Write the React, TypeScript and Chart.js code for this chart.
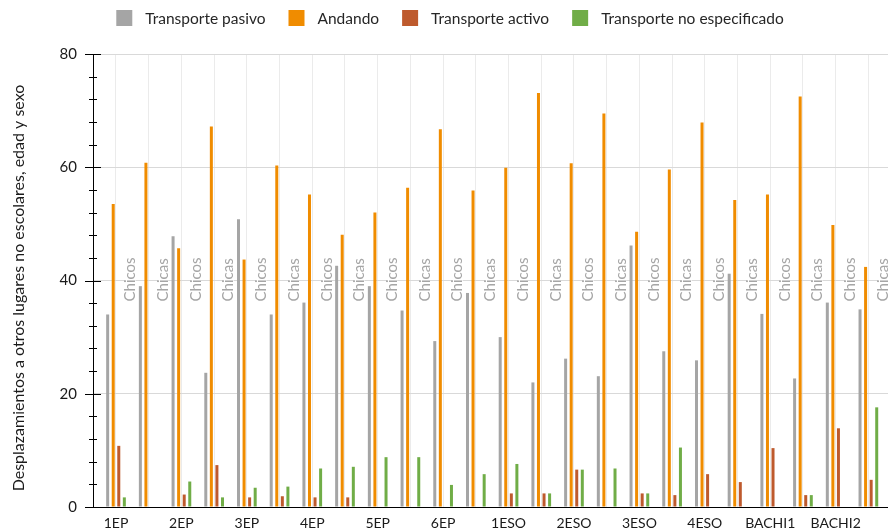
import React, { useEffect, useRef } from 'react';
import { Chart, registerables } from 'chart.js';

Chart.register(...registerables);

// ---- Data ----
const courses = ['1EP', '2EP', '3EP', '4EP', '5EP', '6EP', '1ESO', '2ESO', '3ESO', '4ESO', 'BACHI1', 'BACHI2'];
const sexes = ['Chicos', 'Chicas'];
const seriesNames = ['Transporte pasivo', 'Andando', 'Transporte activo', 'Transporte no especificado'];
const seriesColors = ['#A5A5A5', '#F08C00', '#BE5A2D', '#70AD47'];
const yTickValues = [0, 20, 40, 60, 80];
const axisTitle = 'Desplazamientos a otros lugares no escolares, edad y sexo';

// 24 values per series: each course -> Chicos, Chicas
const pasivo = [34.0, 39.0, 47.8, 23.7, 50.8, 34.0, 36.1, 42.6, 39.0, 34.7, 29.3, 37.8, 30.0, 22.0, 26.2, 23.1, 46.2, 27.5, 25.9, 41.2, 34.1, 22.7, 36.1, 34.9];
const andando = [53.5, 60.8, 45.7, 67.2, 43.7, 60.3, 55.2, 48.1, 52.0, 56.4, 66.7, 55.9, 59.9, 73.1, 60.7, 69.5, 48.6, 59.6, 67.9, 54.2, 55.2, 72.5, 49.8, 42.4];
const activo = [10.8, 0, 2.2, 7.4, 1.7, 1.9, 1.7, 1.7, 0, 0, 0, 0, 2.4, 2.4, 6.6, 0, 2.4, 2.1, 5.8, 4.4, 10.4, 2.1, 13.9, 4.8];
const noEspecificado = [1.7, 0, 4.5, 1.7, 3.4, 3.6, 6.8, 7.1, 8.8, 8.8, 3.9, 5.8, 7.6, 2.4, 6.6, 6.8, 2.4, 10.5, 0, 0, 0, 2.1, 0, 17.6];

const seriesValues = [pasivo, andando, activo, noEspecificado];
const categoryIndex = pasivo.map((_, i) => i);
const FONT = 'Lato';

const decorPlugin = {
  id: 'decor',
  beforeDatasetsDraw(chart: any) {
    const { ctx, scales } = chart;
    const x = scales.x;
    const y = scales.y;
    ctx.save();
    ctx.font = `15px ${FONT}`;
    const startY = y.getPixelForValue(36.3);
    categoryIndex.forEach((i) => {
      const text = sexes[i % 2];
      const cx = x.getPixelForValue(i) + 14.5;
      const w = ctx.measureText(text).width;
      ctx.fillStyle = '#ffffff';
      ctx.fillRect(cx - 5, startY - w - 1, 10, w + 2);
      ctx.save();
      ctx.translate(cx, startY);
      ctx.rotate(-Math.PI / 2);
      ctx.fillStyle = '#A6A6A6';
      ctx.textAlign = 'left';
      ctx.textBaseline = 'middle';
      ctx.fillText(text, 0, 0);
      ctx.restore();
    });
    ctx.restore();
  },
  afterDraw(chart: any) {
    const { ctx, chartArea, scales } = chart;
    const y = scales.y;
    ctx.save();
    // crossing tick marks on the value axis
    ctx.strokeStyle = '#000';
    ctx.lineWidth = 1;
    const ax = Math.round(chartArea.left);
    for (let v = 0; v <= 80; v += 4) {
      const py = Math.round(y.getPixelForValue(v)) + 0.5;
      const major = v % 20 === 0;
      ctx.beginPath();
      ctx.moveTo(ax - (major ? 8 : 4), py);
      ctx.lineTo(ax + (major ? 8 : 4), py);
      ctx.stroke();
    }
    // axis title
    ctx.save();
    ctx.translate(19, 288);
    ctx.rotate(-Math.PI / 2);
    ctx.font = `16px ${FONT}`;
    ctx.fillStyle = '#1a1a1a';
    ctx.textAlign = 'center';
    ctx.textBaseline = 'middle';
    ctx.fillText(axisTitle, 0, 0);
    ctx.restore();
    // legend
    ctx.font = `15.5px ${FONT}`;
    const box = 16;
    const gap = 13;
    const spacing = 23;
    const widths = seriesNames.map((n) => ctx.measureText(n).width);
    const total = widths.reduce((a, w) => a + box + gap + w, 0) + spacing * (seriesNames.length - 1);
    let lx = 450 - total / 2;
    const ly = 10;
    seriesNames.forEach((n, i) => {
      ctx.fillStyle = seriesColors[i];
      ctx.fillRect(lx, ly, box, box);
      ctx.fillStyle = '#262626';
      ctx.textAlign = 'left';
      ctx.textBaseline = 'middle';
      ctx.fillText(n, lx + box + gap, ly + box / 2 + 0.5);
      lx += box + gap + widths[i] + spacing;
    });
    ctx.restore();
  },
};

export default function App() {
  const ref = useRef<HTMLCanvasElement>(null);
  useEffect(() => {
    let chart: Chart | null = null;
    let cancelled = false;
    const make = () => {
      if (cancelled || !ref.current) return;
      chart = new Chart(ref.current, {
        type: 'bar',
        data: {
          datasets: seriesNames.map((name, s) => ({
            label: name,
            data: seriesValues[s].map((v, i) => ({ x: i, y: v })),
            backgroundColor: seriesColors[s],
            borderWidth: 0,
            categoryPercentage: 0.68,
            barPercentage: 0.54,
          })),
        },
        options: {
          responsive: false,
          animation: false,
          layout: { padding: { top: 54, right: 0, bottom: 0, left: 0 } },
          plugins: { legend: { display: false }, tooltip: { enabled: false } },
          scales: {
            x: {
              type: 'linear',
              offset: false,
              min: -0.703,
              max: 23.6,
              afterBuildTicks: (s: any) => {
                s.ticks = categoryIndex.map((v) => ({ value: v }));
              },
              afterFit: (s: any) => {
                s.height = 24;
                s.paddingLeft = 0;
                s.paddingRight = 0;
              },
              grid: { color: '#EBEBEB', drawTicks: false, lineWidth: 1, offset: false },
              border: { color: '#000', width: 1 },
              ticks: {
                autoSkip: false,
                maxRotation: 0,
                minRotation: 0,
                padding: 8,
                color: '#1a1a1a',
                font: { size: 14, family: FONT },
                callback: (v: any) => (Number(v) % 2 === 0 ? courses[Number(v) / 2] : ''),
              },
            },
            y: {
              min: 0,
              max: 80,
              afterFit: (s: any) => {
                s.width = 93;
              },
              ticks: {
                stepSize: 4,
                autoSkip: false,
                padding: 16,
                color: '#1a1a1a',
                font: { size: 15, family: FONT },
                callback: (v: any) => (yTickValues.includes(Number(v)) ? String(v) : ''),
              },
              grid: {
                drawTicks: false,
                color: (c: any) => (c.tick && yTickValues.includes(c.tick.value) ? '#D9D9D9' : 'rgba(0,0,0,0)'),
              },
              border: { color: '#000', width: 1 },
            },
          },
        },
        plugins: [decorPlugin],
      } as any);
    };
    const fonts: any = (document as any).fonts;
    if (fonts && fonts.load) {
      Promise.all([fonts.load(`15px ${FONT}`), fonts.load(`14px ${FONT}`)]).then(make, make);
    } else {
      make();
    }
    return () => {
      cancelled = true;
      if (chart) chart.destroy();
    };
  }, []);
  return (
    <div style={{ position: 'fixed', left: 0, top: 0, width: 888, height: 532, background: '#fff' }}>
      <canvas ref={ref} width={888} height={532} style={{ display: 'block', width: 888, height: 532 }} />
    </div>
  );
}
